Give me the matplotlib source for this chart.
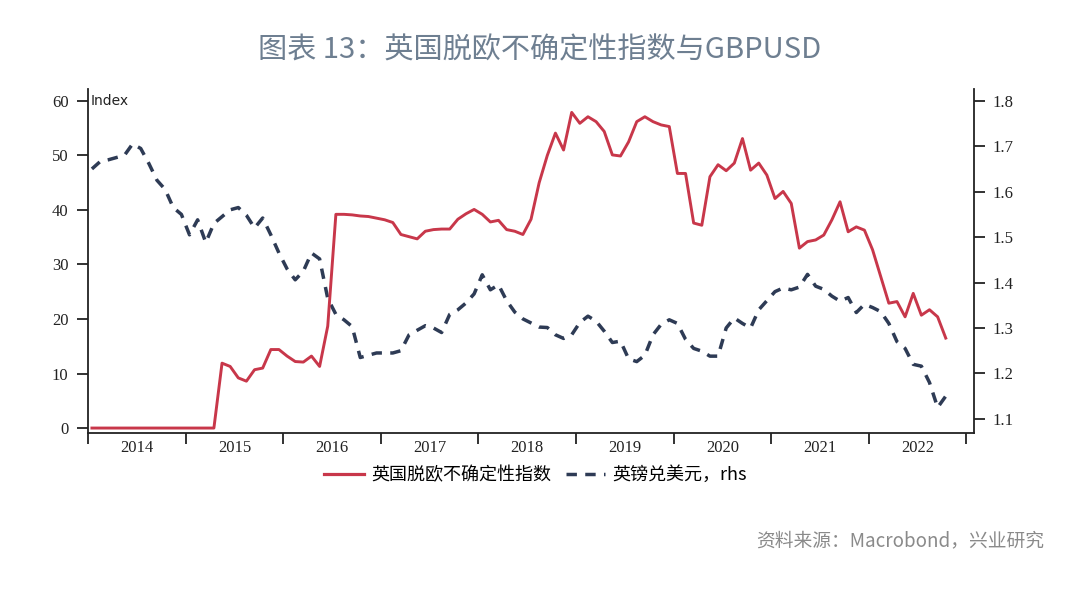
"""英国脱欧不确定性指数与 GBPUSD 对比图."""

import matplotlib

matplotlib.use("Agg")
import matplotlib.pyplot as plt
import matplotlib.transforms as mtransforms
import numpy as np

plt.rcParams["font.family"] = ["Noto Sans CJK SC", "DejaVu Sans"]

# monthly observations, Jan 2014 .. Oct 2022
start_year = 2014
brexit_index = [
    0, 0, 0, 0, 0, 0, 0, 0, 0, 0, 0, 0,
    0, 0, 0, 0, 11.9, 11.3, 9.2, 8.6, 10.7, 11.0, 14.4, 14.4,
    13.2, 12.2, 12.1, 13.2, 11.3, 18.7, 39.2, 39.2, 39.1, 38.9, 38.8, 38.5,
    38.2, 37.7, 35.5, 35.1, 34.7, 36.1, 36.4, 36.5, 36.5, 38.3, 39.3, 40.1,
    39.2, 37.8, 38.1, 36.4, 36.1, 35.5, 38.3, 45.0, 50.0, 54.1, 51.0, 57.9,
    55.9, 57.1, 56.2, 54.4, 50.1, 49.9, 52.5, 56.2, 57.1, 56.2, 55.6, 55.3,
    46.7, 46.7, 37.6, 37.2, 46.1, 48.3, 47.2, 48.6, 53.1, 47.3, 48.6, 46.4,
    42.1, 43.4, 41.2, 33.0, 34.2, 34.5, 35.4, 38.2, 41.5, 36.0, 36.9, 36.3,
    32.7, 27.8, 22.9, 23.2, 20.4, 24.7, 20.7, 21.7, 20.4, 16.5,
]
gbpusd = [
    1.650, 1.666, 1.670, 1.675, 1.680, 1.705, 1.695, 1.662, 1.625, 1.605, 1.565, 1.550,
    1.505, 1.538, 1.488, 1.530, 1.545, 1.560, 1.565, 1.548, 1.520, 1.542, 1.505, 1.465,
    1.430, 1.406, 1.425, 1.465, 1.452, 1.365, 1.330, 1.318, 1.303, 1.235, 1.240, 1.245,
    1.245, 1.245, 1.250, 1.285, 1.295, 1.305, 1.300, 1.290, 1.330, 1.340, 1.355, 1.375,
    1.417, 1.384, 1.395, 1.360, 1.335, 1.320, 1.311, 1.302, 1.301, 1.285, 1.277, 1.285,
    1.312, 1.326, 1.315, 1.293, 1.268, 1.271, 1.232, 1.226, 1.240, 1.285, 1.308, 1.318,
    1.310, 1.275, 1.255, 1.249, 1.238, 1.238, 1.300, 1.322, 1.310, 1.300, 1.340, 1.360,
    1.380, 1.388, 1.384, 1.390, 1.418, 1.392, 1.385, 1.370, 1.359, 1.367, 1.334, 1.352,
    1.345, 1.336, 1.310, 1.270, 1.255, 1.220, 1.216, 1.180, 1.125, 1.150,
]
years = list(range(2014, 2023))
left_ticks = [0, 10, 20, 30, 40, 50, 60]
right_ticks = [1.1, 1.2, 1.3, 1.4, 1.5, 1.6, 1.7, 1.8]

t = start_year + 0.04 + np.arange(len(brexit_index)) / 12

RED = "#c8374a"
NAVY = "#2e3b55"
AXIS = "#222222"
serif = "Liberation Serif"
DASH = (0, (3.0, 2.4))

fig = plt.figure(figsize=(10.8, 6.03), dpi=100)
ax = fig.add_axes([0.0815, 0.282, 0.8204, 0.5705])
ax2 = ax.twinx()

ax2.plot(t, gbpusd, color=NAVY, lw=2.5, linestyle=DASH, zorder=2)
ax.plot(t, brexit_index, color=RED, lw=2.1, zorder=3)
ax.set_zorder(ax2.get_zorder() + 1)
ax.patch.set_visible(False)

ax.set_xlim(2014, 2023.08)
ax.set_ylim(-0.9, 62.2)
ax2.set_ylim(1.069, 1.826)

ax.set_xticks(range(2014, 2024))
ax.set_xticklabels([])
ax.set_xticks([y + 0.5 for y in years], minor=True)
ax.set_xticklabels([str(y) for y in years], minor=True, fontfamily=serif, fontsize=12, color=AXIS)
ax.tick_params(axis="x", which="major", length=8, width=1.3, direction="out", color=AXIS)
ax.tick_params(axis="x", which="minor", length=0, pad=5)

ax.set_yticks(left_ticks)
ax.set_yticklabels([str(v) for v in left_ticks], fontfamily=serif, fontsize=12, color=AXIS)
ax.tick_params(axis="y", length=8, width=1.3, direction="out", color=AXIS, pad=6)
ax2.set_yticks(right_ticks)
ax2.set_yticklabels([f"{v:.1f}" for v in right_ticks], fontfamily=serif, fontsize=12, color=AXIS)
ax2.tick_params(axis="y", length=8, width=1.3, direction="out", color=AXIS, pad=5)

for a in (ax, ax2):
    a.spines["top"].set_visible(False)
    for s in a.spines.values():
        s.set_color(AXIS)
        s.set_linewidth(1.3)
ax.spines["right"].set_visible(False)
ax2.spines["left"].set_visible(False)
ax2.spines["bottom"].set_visible(False)

trans = mtransforms.blended_transform_factory(ax.transAxes, ax.transData)
ax.text(0.003, 60, "Index", transform=trans, fontsize=10, color=AXIS,
        family=["DejaVu Sans"], va="center", ha="left")

fig.text(0.5, 0.917, "图表 13：英国脱欧不确定性指数与GBPUSD", ha="center", va="center",
         fontsize=21, color="#6e7f91", fontweight="medium")

h1, = ax.plot([], [], color=RED, lw=2.3)
h2, = ax.plot([], [], color=NAVY, lw=2.5, linestyle=DASH)
fig.legend([h1, h2], ["英国脱欧不确定性指数", "英镑兑美元，rhs"], loc="center",
           bbox_to_anchor=(0.496, 0.212), ncol=2, frameon=False, fontsize=13,
           handlelength=2.2, handletextpad=0.4, columnspacing=0.8)

fig.text(0.967, 0.103, "资料来源：Macrobond，兴业研究", ha="right", va="center",
         fontsize=13.5, color="#8a8a8a")

fig.savefig("out.png", dpi=100)
